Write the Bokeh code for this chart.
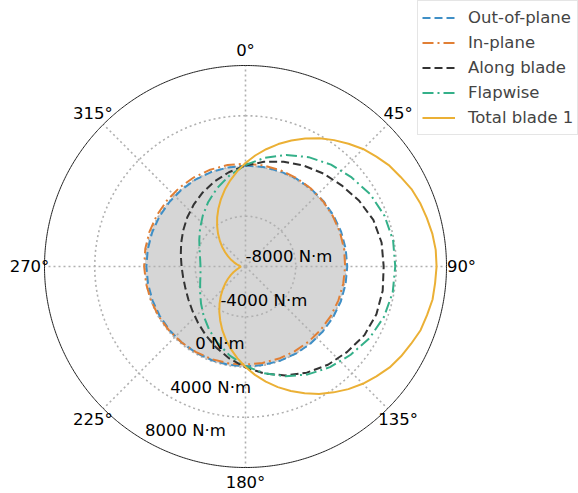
import numpy as np
from bokeh.plotting import figure
from bokeh.models import Range1d, Legend, LegendItem
from bokeh.core.properties import value
from bokeh.embed import file_html
from bokeh.resources import INLINE

# ---------------- data ----------------
azimuth_deg = list(range(0, 360, 10))
azimuth_fine_deg = list(range(0, 360, 5))

out_of_plane = [30, 50, 60, 80, 90, 100, 100, 100, 100, 100, 90, 80,
                60, 40, 30, 10, -10, -30, -50, -60, -80, -90, -100, -110,
                -120, -120, -120, -110, -100, -90, -80, -60, -40, -20, 0, 10]

in_plane = [190, 170, 150, 130, 100, 70, 30, 0, -30, -70, -100, -130,
            -150, -170, -190, -200, -200, -200, -190, -170, -150, -130, -100, -70,
            -30, 0, 30, 70, 100, 130, 150, 170, 190, 200, 200, 200]

along_blade = [40, 460, 870, 1270, 1660, 2020, 2450, 2830, 3000, 3000, 3090, 3090,
               2930, 2570, 2210, 1760, 1230, 650, 40, -570, -1150, -1680, -2130, -2490,
               -2750, -2910, -2960, -2910, -2770, -2550, -2270, -1940, -1580, -1190, -790, -380]

flapwise = [80, 790, 1450, 2050, 2590, 3030, 3480, 3780, 3930, 3920, 3900, 3730,
            3400, 2930, 2460, 1920, 1300, 630, -80, -800, -1520, -2200, -2830, -3380,
            -3830, -4160, -4360, -4420, -4330, -4110, -3750, -3280, -2710, -2070, -1370, -650]

# total blade 1, every 5 degrees
total_blade1 = [240, 870, 1480, 2090, 2680, 3240, 3780, 4280, 4760, 5230, 5600, 5990,
                6260, 6580, 6790, 6940, 7100, 7200, 7210, 7150, 7120, 6960, 6830, 6550,
                6300, 6010, 5600, 5200, 4740, 4230, 3710, 3140, 2550, 1940, 1300, 660,
                0, -660, -1320, -1970, -2610, -3240, -3830, -4400, -4940, -5440, -5890, -6300,
                -6660, -6960, -7210, -7400, -7530, -7600, -7600, -7550, -7430, -7260, -7030, -6740,
                -6400, -6020, -5580, -5110, -4600, -4060, -3490, -2900, -2290, -1660, -1030, -400]

r_ticks = [-8000, -4000, 0, 4000, 8000]
r_tick_labels = ["-8000 N·m", "-4000 N·m", "0 N·m", "4000 N·m", "8000 N·m"]
theta_ticks = [0, 45, 90, 135, 180, 225, 270, 315]
theta_tick_labels = ["0°", "45°", "90°", "135°", "180°", "225°", "270°", "315°"]

series_names = ["Out-of-plane", "In-plane", "Along blade", "Flapwise", "Total blade 1"]
series_values = [out_of_plane, in_plane, along_blade, flapwise, total_blade1]
series_azimuth = [azimuth_deg, azimuth_deg, azimuth_deg, azimuth_deg, azimuth_fine_deg]

# ---------------- polar scale ----------------
R_MIN, R_MAX = -8000.0, 8000.0
R_PX = 201.0


def rho(r):
    return (np.asarray(r, dtype=float) - R_MIN) / (R_MAX - R_MIN) * R_PX


def to_xy(theta_deg, r):
    t = np.radians(np.asarray(theta_deg, dtype=float))
    p = rho(r)
    return p * np.sin(t), p * np.cos(t)   # 0 deg at top, clockwise


FONT = value("DejaVu Sans")
FS = "16.5px"

p = figure(width=578, height=493, output_backend="svg", toolbar_location=None,
           x_range=Range1d(-245, 333), y_range=Range1d(-227, 266),
           x_axis_location=None, y_axis_location=None, min_border=0)
p.grid.visible = False
p.outline_line_color = None
p.background_fill_color = "white"

dense = np.linspace(0, 360, 721)

# grey area for negative values (r <= 0)
gx, gy = to_xy(dense, np.zeros_like(dense))
p.patch(gx, gy, fill_color="#d6d6d6", line_color=None)

# grid rings
for rv in r_ticks[1:-1]:
    cx, cy = to_xy(dense, np.full_like(dense, rv))
    p.line(cx, cy, line_color="#b0b0b0", line_width=1.6, line_dash="2 3")
# spokes
for th in theta_ticks:
    sx, sy = to_xy([th, th], [R_MIN, R_MAX])
    p.line(sx, sy, line_color="#b0b0b0", line_width=1.6, line_dash="2 3")
# outer circle
ox, oy = to_xy(dense, np.full_like(dense, R_MAX))
p.line(ox, oy, line_color="#222222", line_width=1.0)

styles = [
    dict(line_color="#3f8fc6", line_dash="8 4", line_width=2),
    dict(line_color="#e17f35", line_dash="11 4 2 4", line_width=2),
    dict(line_color="#333333", line_dash="8 4", line_width=2),
    dict(line_color="#34b089", line_dash="11 4 2 4", line_width=2),
    dict(line_color="#ebb035", line_width=2),
]

items = []
for name, az, vals, st in zip(series_names, series_azimuth, series_values, styles):
    th = az + [az[0] + 360]
    vv = vals + [vals[0]]
    x, y = to_xy(th, vv)
    r = p.line(x, y, line_join="round", **st)
    items.append(LegendItem(label=name, renderers=[r]))

# theta labels
tx, ty = to_xy(theta_ticks, [R_MAX] * len(theta_ticks))
scale = (R_PX + 15) / R_PX
p.text(x=tx * scale, y=ty * scale, text=theta_tick_labels, text_font=FONT,
       text_font_size=FS, text_align="center", text_baseline="middle",
       text_color="black")

# radial labels along the 210 deg direction
rx, ry = to_xy([210] * len(r_ticks), r_ticks)
p.text(x=rx, y=ry + 10, text=r_tick_labels, text_font=FONT,
       text_font_size=FS, text_align="left", text_baseline="middle",
       text_color="black")

legend = Legend(items=items, location=(417, 358), margin=0, padding=4, spacing=0,
                glyph_width=33, glyph_height=25, label_height=25, label_standoff=13,
                label_text_font="DejaVu Sans", label_text_font_size=FS,
                border_line_color="#cccccc", border_line_width=1,
                background_fill_color="white", background_fill_alpha=0.85)
p.add_layout(legend, "center")

open("out.html", "w").write(file_html(p, INLINE))
